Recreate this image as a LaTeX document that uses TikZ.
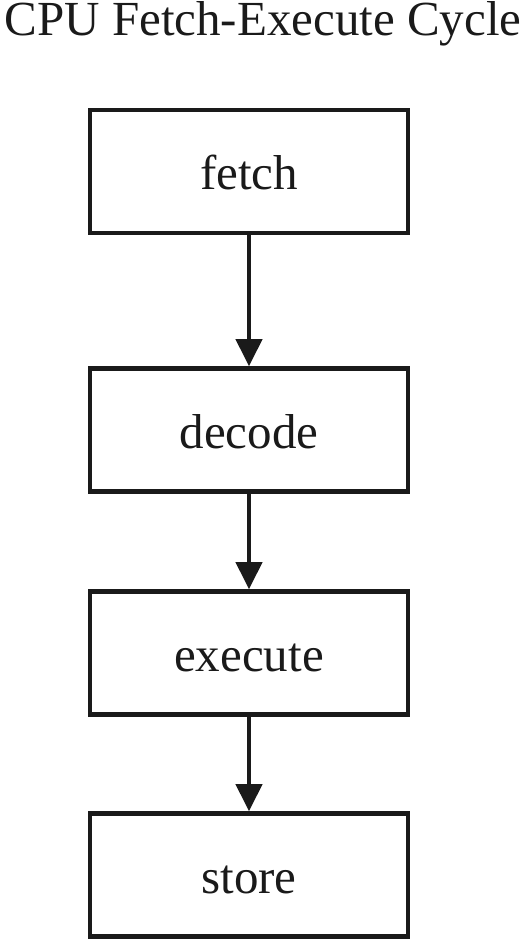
\documentclass[tikz,border=0pt]{standalone}
\usepackage{fontspec}
\setmainfont{Liberation Serif}
\usetikzlibrary{arrows.meta}

\tikzset{
    stagebox/.style={draw, line width=4.5pt, minimum width=318pt, minimum height=123pt,
        text height=37pt, text depth=0pt, inner sep=0pt},
    flow/.style={line width=4pt, -{Triangle[length=27pt, width=26pt]}}
}

\begin{document}
\begin{tikzpicture}[x=1pt, y=1pt, font=\fontsize{49}{58}\selectfont, color={rgb,255:red,26;green,26;blue,26}]
    \useasboundingbox (0,0) rectangle (526,939);
    \node[anchor=base, inner sep=0pt] (title) at (263,903) {CPU Fetch-Execute Cycle};
    \node[stagebox] (fetch) at (249,767.5) {fetch};
    \node[stagebox] (decode) at (249,509) {decode};
    \node[stagebox] (execute) at (249,286) {execute};
    \node[stagebox] (store) at (249,64) {store};
    \draw[flow] (fetch) -- (decode);
    \draw[flow] (decode) -- (execute);
    \draw[flow] (execute) -- (store);
\end{tikzpicture}
\end{document}
